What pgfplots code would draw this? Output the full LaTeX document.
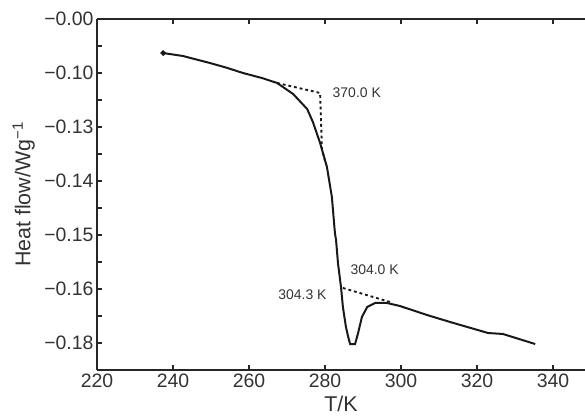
\documentclass[border=0pt]{standalone}
\usepackage{fontspec}
\setmainfont{Liberation Sans}
\usepackage{pgfplots}
\pgfplotsset{compat=1.18}

\begin{document}
\begin{tikzpicture}
\useasboundingbox (-97bp,-46bp) rectangle (488bp,370bp);
\begin{axis}[
    at={(0,0)}, anchor=south west,
    scale only axis,
    width=488bp, height=351bp,
    xmin=220, xmax=348.4,
    ymin=-6.5, ymax=0,
    axis x line*=box, axis y line*=left,
    axis line style={line width=1.5pt, black!85},
    tick align=inside,
    major tick length=5bp, minor tick length=5bp,
    tick style={line width=1.2pt, black!85},
    xtick={220,240,...,340},
    ytick={0,-1,-2,-3,-4,-5,-6},
    yticklabels={−0.00,−0.10,−0.13,−0.14,−0.15,−0.16,−0.18},
    minor ytick={-0.5,-1.5,-2.5,-3.5,-4.5,-5.5},
    /pgf/number format/assume math mode=true,
    ticklabel style={font=\fontsize{19.5}{21}\selectfont, text=black!80},
    xlabel={T/K},
    ylabel={Heat flow/Wg\textsuperscript{−1}},
    label style={font=\fontsize{21.5}{24}\selectfont, text=black!80},
    xlabel style={at={(axis description cs:0.5,-0.097)}, anchor=center},
    ylabel style={at={(axis description cs:-0.150,0.5)}, anchor=center},
    clip=false,
]
% DSC trace
\addplot[black!90, line width=2pt, mark=*, mark size=1.7pt, mark indices={1}] coordinates {
(237.4,-0.630) (242.6,-0.685) (249.7,-0.815) (254.0,-0.900) (258.4,-1.000)
(263.4,-1.093) (267.4,-1.185) (271.6,-1.389) (275.3,-1.667) (276.8,-1.907)
(278.7,-2.296) (280.5,-2.741) (281.8,-3.296) (282.6,-3.963) (282.9,-4.093)
(283.4,-4.519) (284.2,-4.963) (284.7,-5.333) (285.5,-5.704) (286.1,-5.889)
(286.6,-6.019) (287.9,-6.019) (288.7,-5.815) (289.7,-5.519) (291.1,-5.333)
(293.2,-5.259) (296.3,-5.259) (299.7,-5.315) (306.8,-5.481) (312.9,-5.611)
(322.9,-5.815) (326.8,-5.833) (335.3,-6.019)
};
% onset construction lines
\addplot[black!90, line width=1.9pt, dash pattern=on 2.8pt off 3pt] coordinates {
(267.4,-1.185) (278.7,-1.370) (279.2,-2.426) (280.3,-2.70)
};
\addplot[black!90, line width=1.9pt, dash pattern=on 2.8pt off 3pt] coordinates {
(284.7,-4.981) (297.1,-5.241)
};
\node[anchor=west, font=\fontsize{14}{16}\selectfont, text=black!80] at (axis cs:281.1,-1.37) {370.0 K};
\node[anchor=west, font=\fontsize{14}{16}\selectfont, text=black!80] at (axis cs:285.8,-4.648) {304.0 K};
\node[anchor=east, font=\fontsize{14}{16}\selectfont, text=black!80] at (axis cs:281.3,-5.111) {304.3 K};
\end{axis}
\end{tikzpicture}
\end{document}
